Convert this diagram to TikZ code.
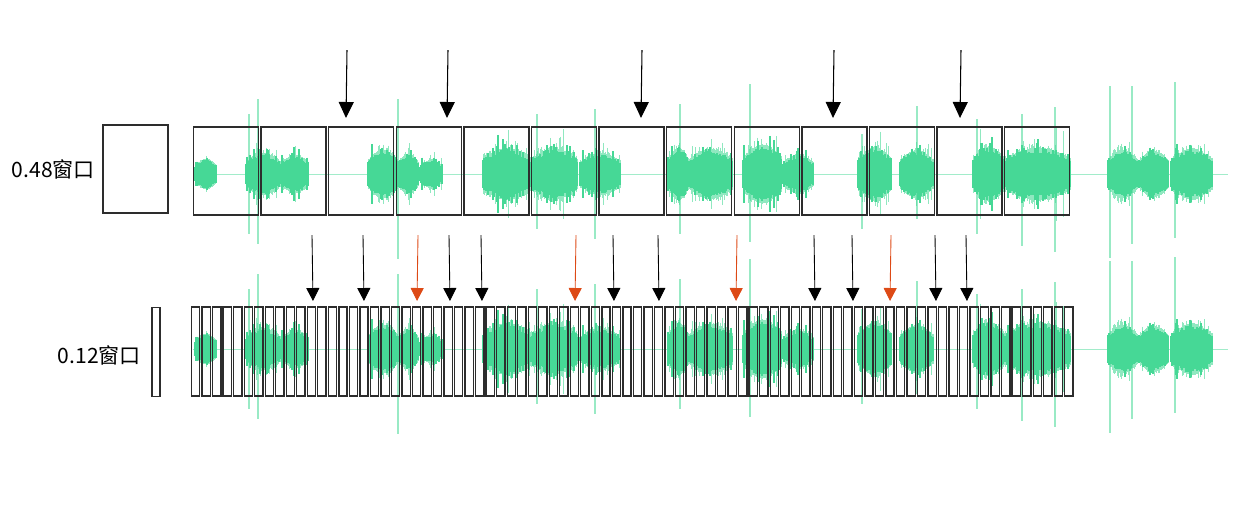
\documentclass[tikz,border=0pt]{standalone}
\usepackage{fontspec}
\usepackage{tikz}
\usetikzlibrary{positioning,arrows.meta}
\newfontfamily\cjk{Noto Sans CJK SC}
\definecolor{wavegreen}{RGB}{70,216,150}
\definecolor{myred}{RGB}{221,74,22}
\definecolor{boxgray}{RGB}{45,45,45}

\begin{document}
\begin{tikzpicture}[x=0.02cm, y=-0.02cm, >=Stealth,
    wave/.style={wavegreen, line width=0.75pt},
    spike/.style={wavegreen, line width=0.7pt, opacity=0.55},
    thinspike/.style={wavegreen, line width=0.45pt, opacity=0.6},
    axisline/.style={wavegreen!50, line width=0.5pt},
    winbig/.style={draw=boxgray, line width=0.75pt, minimum width=1.3cm, minimum height=1.76cm, inner sep=0pt},
    winsmall/.style={draw=boxgray, line width=0.75pt, minimum width=0.165cm, minimum height=1.78cm, inner sep=0pt},
    lab/.style={font=\cjk\fontsize{12}{14}\selectfont, inner sep=0pt},
    bigarrow/.style={-{Triangle[width=0.3cm,length=0.32cm]}, line width=0.6pt},
    smallarrow/.style={-{Triangle[width=0.26cm,length=0.26cm]}, line width=0.5pt}]
  \useasboundingbox (0,0) rectangle (1238,512);
  % Waveforms (same signal in both rows)
  \foreach \yc in {174,349}{
    \pgfmathsetseed{42}
    \draw[axisline] (193,\yc) -- (1228,\yc);
    \foreach \a/\b/\amp in {195/216/30, 246/280/42, 281/308/38, 368/397/48, 398/418/40,
        420/442/28, 483/530/52, 531/577/50, 580/620/42, 668/688/52, 689/732/50,
        743/781/58, 783/813/38, 858/891/52, 900/933/48, 973/1004/54, 1005/1070/52,
        1108/1137/48, 1139/1168/46, 1171/1212/50}{
      \foreach \x in {\a,...,\b}{
        \pgfmathsetmacro\env{0.6+0.4*sin(180*(\x-\a)/(\b-\a))}
        \pgfmathsetmacro\h{\amp*(0.4+0.5*rnd*rnd*rnd)*\env}
        \pgfmathsetmacro\hs{\amp*(0.5+0.8*rnd*rnd*rnd*rnd)*\env}
        \draw[thinspike] (\x,\yc-\hs) -- (\x,\yc+\hs);
        \draw[wave] (\x,\yc-\h) -- (\x,\yc+\h);
      }
    }
    \foreach \x/\up/\dn in {249/60/60, 258/75/70, 398/75/85, 537/60/55, 595/65/65,
        680/70/60, 750/90/68, 862/40/55, 917/68/45, 977/55/60, 1022/60/72,
        1055/67/78, 1110/88/84, 1132/88/70, 1175/92/64}{
      \draw[spike] (\x,\yc-\up) -- (\x,\yc+\dn);
    }
  }
  % Windows of 0.48
  \foreach \i in {0,...,12}{
    \node[winbig] (W\i) at (226+67.6*\i,171) {};
  }
  % Windows of 0.12
  \foreach \i in {0,...,83}{
    \node[winsmall] (w\i) at (195.7+10.52*\i,351.5) {};
  }
  % Legend
  \node[winbig] (legbig) at (135.5,169) {};
  \node[winsmall] (legsmall) at (156,352) {};
  \node[lab, left=0.14cm of legbig] (labbig) {0.48窗口};
  \node[lab, left=0.2cm of legsmall, yshift=-0.06cm] (labsmall) {0.12窗口};
  % Arrows above the 0.48 windows
  \foreach \x/\n in {347/1, 448/2, 642/3, 834/4, 961/5}{
    \coordinate (ta\n) at (\x,50);
    \coordinate (tb\n) at (\x-1,118);
    \draw[bigarrow] (ta\n) -- (tb\n);
  }
  % Arrows above the 0.12 windows
  \foreach \x/\n in {313/1, 364/2, 450/3, 482/4, 614/5, 659/6, 815/7, 853/8, 936/9, 967/10}{
    \coordinate (ma\n) at (\x-1,235);
    \coordinate (mb\n) at (\x,301);
    \draw[smallarrow] (ma\n) -- (mb\n);
  }
  \foreach \x/\n in {418/1, 576/2, 737/3, 891/4}{
    \coordinate (ra\n) at (\x,235);
    \coordinate (rb\n) at (\x-1,301);
    \draw[smallarrow, myred] (ra\n) -- (rb\n);
  }
\end{tikzpicture}
\end{document}
